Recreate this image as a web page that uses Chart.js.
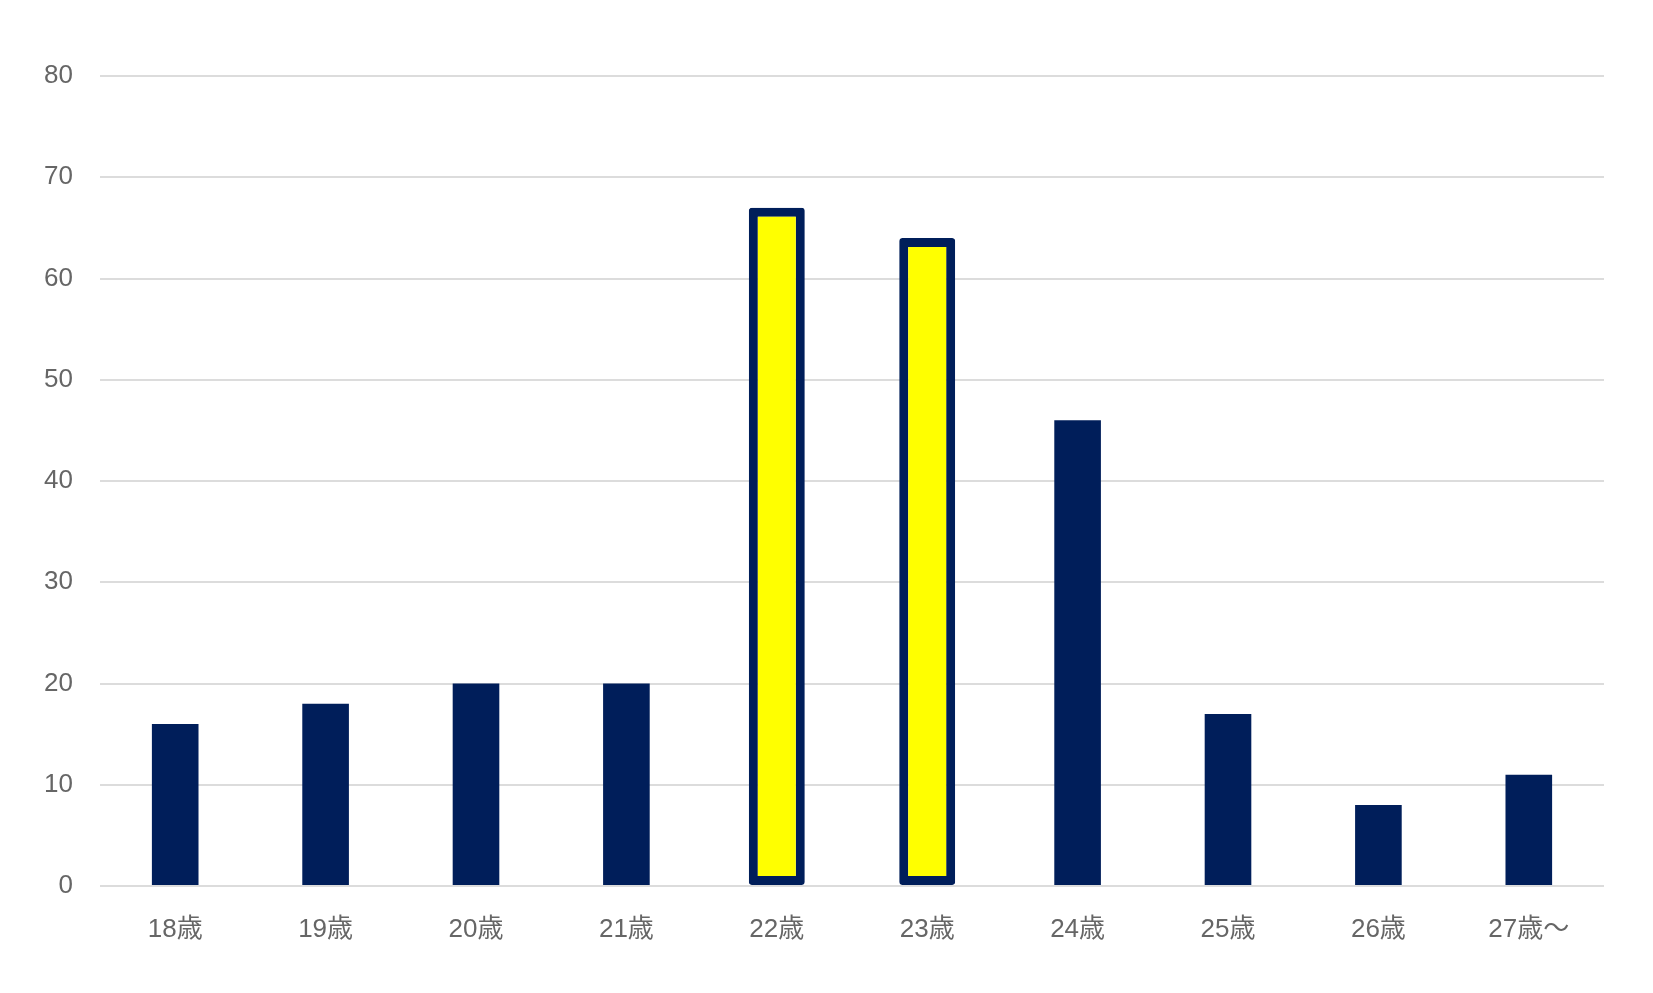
<!DOCTYPE html>
<html>
<head>
<meta charset="utf-8">
<script src="https://cdn.jsdelivr.net/npm/chart.js@4/dist/chart.umd.min.js"></script>
<style>
  html, body { margin: 0; padding: 0; background: #fff; }
  #wrap { width: 1653px; height: 993px; }
</style>
</head>
<body>
<div id="wrap"><canvas id="grafico"></canvas></div>
<script>
// 年齢ごとの人数
var categorias = ["18歳", "19歳", "20歳", "21歳", "22歳", "23歳", "24歳", "25歳", "26歳", "27歳〜"];
var valores = [16, 18, 20, 20, 67, 64, 46, 17, 8, 11];
var destacados = ["22歳", "23歳"];
var ticks_y = [0, 10, 20, 30, 40, 50, 60, 70, 80];

var azul = "#001E5A";
var amarillo = "#FFFF00";
var fuente = "'Liberation Sans', Arial, 'Noto Sans CJK JP', sans-serif";

// barras normales y barras destacadas en dos conjuntos superpuestos
var datos_normales = valores.map(function (v, i) {
    return destacados.indexOf(categorias[i]) >= 0 ? null : v;
});
var datos_destacados = valores.map(function (v, i) {
    return destacados.indexOf(categorias[i]) >= 0 ? v : null;
});

var contexto = document.getElementById("grafico").getContext("2d");
new Chart(contexto, {
    type: "bar",
    data: {
        labels: categorias,
        datasets: [{
            data: datos_normales,
            backgroundColor: azul,
            barPercentage: 0.31,
            categoryPercentage: 1,
            grouped: false
        }, {
            data: datos_destacados,
            backgroundColor: amarillo,
            borderColor: azul,
            borderWidth: 9,
            borderSkipped: false,
            borderRadius: 3,
            barPercentage: 0.372,
            categoryPercentage: 1,
            grouped: false
        }]
    },
    options: {
        responsive: true,
        maintainAspectRatio: false,
        animation: false,
        layout: { padding: { left: 0, right: 49, top: 76, bottom: 0 } },
        plugins: { legend: { display: false }, tooltip: { enabled: false } },
        scales: {
            x: {
                grid: { display: false },
                border: { display: false },
                ticks: {
                    color: "#666",
                    font: { family: fuente, size: 26 },
                    padding: 20,
                    maxRotation: 0,
                    autoSkip: false
                },
                afterFit: function (escala) { escala.height = 107; }
            },
            y: {
                min: 0,
                max: 80,
                afterBuildTicks: function (escala) {
                    escala.ticks = ticks_y.map(function (v) { return { value: v }; });
                },
                grid: { color: "#dcdcdc", lineWidth: 2, drawTicks: false },
                border: { display: false },
                ticks: {
                    color: "#666",
                    font: { family: fuente, size: 26 },
                    padding: 27
                },
                afterFit: function (escala) { escala.width = 100; }
            }
        }
    }
});
</script>
</body>
</html>
